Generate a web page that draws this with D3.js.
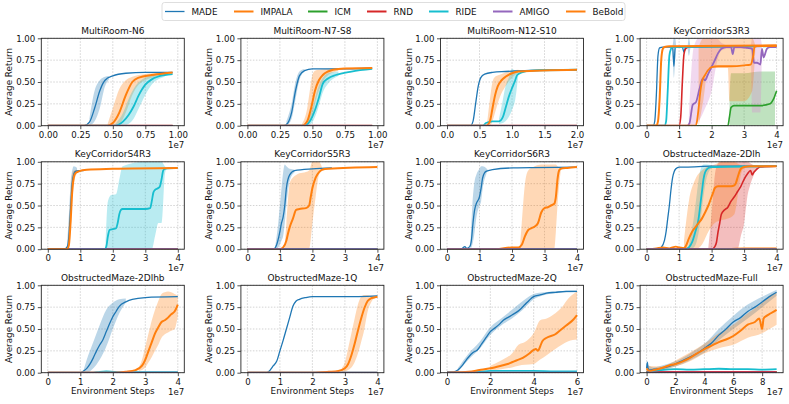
<!DOCTYPE html>
<html>
<head>
<meta charset="utf-8">
<script src="https://cdnjs.cloudflare.com/ajax/libs/d3/7.8.5/d3.min.js"></script>
<style>
  body { margin: 0; background: #fff; }
  svg { font-family: "DejaVu Sans", sans-serif; }
</style>
</head>
<body>
<svg id="chart" width="789" height="404"></svg>
<script>
// methods, in legend order
var methods = ["MADE", "IMPALA", "ICM", "RND", "RIDE", "AMIGO", "BeBold"];
var colors = ["#1f77b4", "#ff7f0e", "#2ca02c", "#d62728", "#17becf", "#9467bd", "#ff7f0e"];
var bandColors = ["#1f77b4", "#ff7f0e", "#2ca02c", "#d62728", "#17becf", "#d88fd0", "#ff7f0e"];
var widths = [1.3, 1.8, 1.6, 1.6, 1.8, 1.8, 2];

var titles = ["MultiRoom-N6", "MultiRoom-N7-S8", "MultiRoom-N12-S10", "KeyCorridorS3R3",
              "KeyCorridorS4R3", "KeyCorridorS5R3", "KeyCorridorS6R3", "ObstructedMaze-2Dlh",
              "ObstructedMaze-2Dlhb", "ObstructedMaze-1Q", "ObstructedMaze-2Q", "ObstructedMaze-Full"];
// x extent of each run, in units of 1e7 steps
var xMax = [1, 1, 2, 4, 4, 4, 4, 4, 4, 4, 6, 9];
var xTicks = [[0, 0.25, 0.5, 0.75, 1], [0, 0.25, 0.5, 0.75, 1], [0, 0.5, 1, 1.5, 2],
              [0, 1, 2, 3, 4], [0, 1, 2, 3, 4], [0, 1, 2, 3, 4], [0, 1, 2, 3, 4], [0, 1, 2, 3, 4],
              [0, 1, 2, 3, 4], [0, 1, 2, 3, 4], [0, 2, 4, 6], [0, 2, 4, 6, 8]];
var xFormats = [".2f", ".2f", ".1f", "d", "d", "d", "d", "d", "d", "d", "d", "d"];
var yTicks = [0, 0.25, 0.5, 0.75, 1];

// ---- per panel curves (x in 1e7 steps, y = average return) ----
var multiRoomN6 = {
  lines: [
    {m: "MADE", x: [0, 0.28, 0.32, 0.36, 0.40, 0.44, 0.50, 0.60, 0.75, 0.96], y: [0, 0, 0.04, 0.2, 0.4, 0.52, 0.57, 0.6, 0.61, 0.61]},
    {m: "IMPALA", x: [0, 0.96], y: [0, 0]},
    {m: "ICM", x: [0, 0.96], y: [0, 0]},
    {m: "RND", x: [0, 0.96], y: [0, 0]},
    {m: "RIDE", x: [0, 0.52, 0.58, 0.62, 0.66, 0.70, 0.75, 0.8, 0.9, 0.96], y: [0, 0, 0.05, 0.12, 0.22, 0.35, 0.47, 0.53, 0.58, 0.59]},
    {m: "BeBold", x: [0, 0.46, 0.5, 0.55, 0.6, 0.65, 0.7, 0.8, 0.9, 0.96], y: [0, 0, 0.03, 0.15, 0.35, 0.5, 0.55, 0.58, 0.6, 0.61]},
    {m: "AMIGO", x: [0, 0.96], y: [0, 0]}
  ],
  bands: [
    {m: "MADE", x: [0.32, 0.36, 0.40, 0.44, 0.47], lo: [0, 0.05, 0.2, 0.45, 0.53], hi: [0.08, 0.4, 0.52, 0.56, 0.57]},
    {m: "BeBold", x: [0.46, 0.5, 0.55, 0.6, 0.65, 0.7, 0.8, 0.9], lo: [0, 0, 0.02, 0.15, 0.35, 0.47, 0.55, 0.58], hi: [0.02, 0.2, 0.42, 0.52, 0.56, 0.58, 0.6, 0.61]},
    {m: "RIDE", x: [0.52, 0.58, 0.62, 0.66, 0.70, 0.75, 0.8, 0.9], lo: [0, 0, 0.02, 0.08, 0.2, 0.35, 0.47, 0.56], hi: [0.02, 0.15, 0.3, 0.42, 0.5, 0.55, 0.58, 0.6]}
  ]
};

var multiRoomN7S8 = {
  lines: [
    {m: "MADE", x: [0, 0.28, 0.31, 0.34, 0.37, 0.40, 0.44, 0.5, 0.7, 0.96], y: [0, 0, 0.03, 0.15, 0.4, 0.57, 0.63, 0.65, 0.65, 0.66]},
    {m: "IMPALA", x: [0, 0.96], y: [0, 0]},
    {m: "ICM", x: [0, 0.96], y: [0, 0]},
    {m: "RND", x: [0, 0.96], y: [0, 0]},
    {m: "RIDE", x: [0, 0.44, 0.48, 0.52, 0.55, 0.58, 0.62, 0.68, 0.8, 0.96], y: [0, 0, 0.05, 0.18, 0.32, 0.48, 0.54, 0.58, 0.62, 0.65]},
    {m: "BeBold", x: [0, 0.42, 0.46, 0.49, 0.52, 0.55, 0.58, 0.62, 0.7, 0.96], y: [0, 0, 0.05, 0.2, 0.4, 0.52, 0.58, 0.62, 0.65, 0.66]},
    {m: "AMIGO", x: [0, 0.96], y: [0, 0]}
  ],
  bands: [
    {m: "MADE", x: [0.3, 0.34, 0.37, 0.40, 0.44], lo: [0, 0.08, 0.3, 0.52, 0.62], hi: [0.05, 0.25, 0.5, 0.62, 0.65]},
    {m: "BeBold", x: [0.42, 0.46, 0.48, 0.5, 0.52, 0.55, 0.6, 0.7], lo: [0, 0, 0.05, 0.1, 0.25, 0.4, 0.55, 0.63], hi: [0.02, 0.2, 0.4, 0.58, 0.63, 0.64, 0.65, 0.66]},
    {m: "RIDE", x: [0.46, 0.5, 0.54, 0.58, 0.62, 0.7], lo: [0, 0.04, 0.18, 0.38, 0.48, 0.57], hi: [0.05, 0.2, 0.42, 0.55, 0.6, 0.62]}
  ]
};

var multiRoomN12S10 = {
  lines: [
    {m: "MADE", x: [0, 0.36, 0.4, 0.44, 0.48, 0.52, 0.58, 0.7, 0.9, 1.2, 2.0], y: [0, 0, 0.05, 0.25, 0.45, 0.55, 0.59, 0.61, 0.62, 0.63, 0.64]},
    {m: "IMPALA", x: [0, 2], y: [0, 0]},
    {m: "ICM", x: [0, 2], y: [0, 0]},
    {m: "RND", x: [0, 2], y: [0, 0]},
    {m: "RIDE", x: [0, 0.55, 0.6, 0.7, 0.8, 0.86, 0.9, 0.95, 1.0, 1.04, 1.08, 1.15, 1.3, 2.0], y: [0, 0, 0.03, 0.05, 0.05, 0.1, 0.2, 0.33, 0.43, 0.5, 0.58, 0.61, 0.63, 0.64]},
    {m: "BeBold", x: [0, 0.6, 0.66, 0.7, 0.74, 0.78, 0.84, 0.9, 1.0, 1.1, 2.0], y: [0, 0, 0.05, 0.2, 0.35, 0.45, 0.52, 0.56, 0.6, 0.62, 0.64]},
    {m: "AMIGO", x: [0, 2], y: [0, 0]}
  ],
  bands: [
    {m: "BeBold", x: [0.62, 0.66, 0.7, 0.74, 0.8, 0.9, 1.0, 1.1], lo: [0, 0, 0.05, 0.15, 0.3, 0.45, 0.55, 0.61], hi: [0.05, 0.3, 0.5, 0.56, 0.58, 0.61, 0.63, 0.64]},
    {m: "RIDE", x: [0.8, 0.86, 0.9, 0.95, 1.0, 1.05, 1.1], lo: [0.02, 0.03, 0.05, 0.1, 0.18, 0.3, 0.6], hi: [0.08, 0.3, 0.45, 0.55, 0.65, 0.63, 0.62]}
  ]
};

var keyCorridorS3R3 = {
  lines: [
    {m: "MADE", x: [0, 0.2, 0.25, 0.3, 0.35, 0.4, 0.5, 0.8, 0.84, 0.88, 0.92, 1.1, 1.15, 1.2, 1.3], y: [0, 0, 0.05, 0.35, 0.8, 0.89, 0.9, 0.9, 0.68, 0.9, 0.9, 0.9, 0.84, 0.9, 0.9]},
    {m: "ICM", x: [0, 2.5, 2.55, 2.6, 2.7, 3.0, 3.5, 3.8, 3.9, 4.0], y: [0, 0, 0.1, 0.21, 0.23, 0.23, 0.23, 0.25, 0.3, 0.4]},
    {m: "RND", x: [0, 1.0, 1.05, 1.1, 1.15, 1.2, 1.3, 4.0], y: [0, 0, 0.1, 0.5, 0.82, 0.88, 0.9, 0.91]},
    {m: "RIDE", x: [0, 0.55, 0.6, 0.65, 0.7, 0.75, 0.8, 4.0], y: [0, 0, 0.05, 0.4, 0.8, 0.88, 0.9, 0.91]},
    {m: "AMIGO", x: [0, 1.25, 1.32, 1.42, 1.52, 1.62, 1.73, 1.8, 1.88, 1.98, 2.1, 2.2, 2.3, 2.45, 2.6, 2.65, 2.7, 2.9, 3.1, 3.25, 3.3, 3.4, 3.5, 3.55, 3.6, 3.7, 3.8, 4.0],
                   y: [0, 0, 0.03, 0.24, 0.27, 0.41, 0.54, 0.52, 0.58, 0.66, 0.75, 0.83, 0.88, 0.9, 0.9, 0.82, 0.9, 0.9, 0.89, 0.88, 0.72, 0.72, 0.7, 0.88, 0.78, 0.88, 0.9, 0.9]},
    {m: "IMPALA", x: [0, 1.5, 1.55, 1.6, 1.65, 1.7, 1.75, 1.8, 1.9, 2.0, 2.2, 2.6, 3.0, 3.2, 3.28, 3.32, 3.4, 4.0], y: [0, 0, 0.05, 0.2, 0.38, 0.5, 0.55, 0.58, 0.64, 0.67, 0.68, 0.68, 0.69, 0.7, 0.8, 0.9, 0.91, 0.91]},
    {m: "BeBold", x: [0, 0.3, 0.35, 0.4, 0.45, 0.5, 0.55, 0.7, 4.0], y: [0, 0, 0.05, 0.3, 0.75, 0.88, 0.9, 0.91, 0.92]}
  ],
  bands: [
    {m: "MADE", x: [0.8, 0.84, 0.88, 0.92, 1.25, 1.3, 1.35], lo: [0.9, 0.55, 0.75, 0.9, 0.9, 0.8, 0.9], hi: [0.9, 1.0, 1.0, 0.9, 0.9, 1.0, 0.9]},
    {m: "ICM", x: [2.55, 2.6, 3.0, 3.5, 3.9, 3.95], lo: [0, 0, 0, 0, 0, 0], hi: [0.3, 0.6, 0.6, 0.62, 0.62, 0.62]},
    {m: "AMIGO", x: [1.3, 1.45, 1.6, 1.8, 2.0, 2.15, 2.3, 2.5, 3.2, 3.25, 3.35, 3.5, 3.55], lo: [0, 0, 0.05, 0.2, 0.4, 0.7, 0.86, 0.88, 0.88, 0.15, 0.15, 0.15, 0.88], hi: [0.1, 0.9, 1.0, 1.0, 1.0, 1.0, 0.95, 0.92, 0.92, 1.0, 1.0, 1.0, 0.92]},
    {m: "IMPALA", x: [1.6, 1.75, 1.9, 2.5, 2.55, 3.0, 3.25, 3.35], lo: [0, 0.3, 0.66, 0.66, 0.28, 0.28, 0.4, 0.9], hi: [0.9, 1.0, 1.0, 1.0, 1.0, 1.0, 1.0, 0.91]}
  ]
};

var keyCorridorS4R3 = {
  lines: [
    {m: "MADE", x: [0, 0.5, 0.6, 0.65, 0.7, 0.75, 0.8, 0.85, 0.95, 1.1], y: [0, 0, 0.03, 0.15, 0.45, 0.75, 0.86, 0.89, 0.9, 0.9]},
    {m: "IMPALA", x: [0, 4], y: [0, 0]},
    {m: "ICM", x: [0, 4], y: [0, 0]},
    {m: "RND", x: [0, 4], y: [0, 0]},
    {m: "RIDE", x: [0, 1.75, 1.8, 1.85, 1.9, 2.0, 2.1, 2.15, 2.2, 2.25, 2.3, 2.6, 3.0, 3.15, 3.2, 3.25, 3.3, 3.4, 3.45, 3.5, 3.55, 3.6, 4.0],
                  y: [0, 0, 0.03, 0.15, 0.22, 0.23, 0.24, 0.3, 0.4, 0.45, 0.46, 0.46, 0.46, 0.47, 0.55, 0.65, 0.68, 0.7, 0.72, 0.8, 0.9, 0.92, 0.93]},
    {m: "AMIGO", x: [0, 4], y: [0, 0]},
    {m: "BeBold", x: [0, 0.6, 0.65, 0.7, 0.75, 0.8, 0.85, 0.95, 1.2, 2.0, 4.0], y: [0, 0, 0.05, 0.3, 0.65, 0.82, 0.87, 0.89, 0.91, 0.92, 0.93]}
  ],
  bands: [
    {m: "MADE", x: [0.6, 0.65, 0.7, 0.75, 0.8, 0.9], lo: [0, 0.05, 0.3, 0.6, 0.8, 0.88], hi: [0.1, 0.4, 0.75, 0.9, 0.95, 0.93]},
    {m: "RIDE", x: [1.78, 1.85, 1.95, 2.1, 2.2, 2.3, 3.0, 3.2, 3.3, 3.4, 3.5, 3.6, 3.65], lo: [0, 0, 0, 0, 0, 0, 0, 0, 0.15, 0.3, 0.3, 0.85, 0.92], hi: [0.05, 0.55, 0.62, 0.63, 0.8, 0.95, 1.0, 1.0, 1.0, 1.0, 1.0, 0.95, 0.93]},
    {m: "BeBold", x: [0.62, 0.68, 0.74, 0.8, 0.9], lo: [0, 0.1, 0.45, 0.75, 0.87], hi: [0.1, 0.5, 0.85, 0.9, 0.91]}
  ]
};

var keyCorridorS5R3 = {
  lines: [
    {m: "MADE", x: [0, 0.8, 0.9, 1.0, 1.05, 1.1, 1.15, 1.2, 1.3, 1.45, 2.0, 2.6], y: [0, 0, 0.05, 0.2, 0.3, 0.37, 0.5, 0.7, 0.85, 0.9, 0.92, 0.93]},
    {m: "IMPALA", x: [0, 4], y: [0, 0]},
    {m: "ICM", x: [0, 4], y: [0, 0]},
    {m: "RND", x: [0, 4], y: [0, 0]},
    {m: "RIDE", x: [0, 4], y: [0, 0]},
    {m: "BeBold", x: [0, 1.0, 1.1, 1.2, 1.25, 1.3, 1.4, 1.5, 1.6, 1.8, 1.9, 1.95, 2.0, 2.1, 2.2, 2.3, 2.5, 4.0], y: [0, 0, 0.02, 0.1, 0.18, 0.25, 0.35, 0.45, 0.46, 0.47, 0.5, 0.6, 0.7, 0.82, 0.88, 0.91, 0.92, 0.94]},
    {m: "AMIGO", x: [0, 4], y: [0, 0]}
  ],
  bands: [
    {m: "MADE", x: [0.85, 0.95, 1.05, 1.1, 1.15, 1.2, 1.3, 1.45], lo: [0, 0.02, 0.1, 0.15, 0.3, 0.5, 0.78, 0.88], hi: [0.02, 0.3, 0.7, 0.88, 0.97, 0.95, 0.92, 0.91]},
    {m: "BeBold", x: [1.15, 1.2, 1.3, 1.4, 1.5, 1.9, 2.0, 2.1, 2.2, 2.3], lo: [0, 0, 0, 0, 0, 0, 0.3, 0.6, 0.85, 0.91], hi: [0.05, 0.3, 0.75, 0.82, 0.85, 0.9, 1.0, 1.0, 1.0, 0.93]}
  ]
};

var keyCorridorS6R3 = {
  lines: [
    {m: "MADE", x: [0, 0.45, 0.5, 0.55, 0.6, 0.7, 0.75, 0.8, 0.85, 0.9, 1.0, 1.05, 1.1, 1.2, 1.4, 2.0, 4.0], y: [0, 0, 0.02, 0.03, 0.01, 0.03, 0.1, 0.3, 0.45, 0.52, 0.6, 0.7, 0.82, 0.89, 0.91, 0.93, 0.94]},
    {m: "IMPALA", x: [0, 4], y: [0, 0]},
    {m: "ICM", x: [0, 4], y: [0, 0]},
    {m: "RND", x: [0, 4], y: [0, 0]},
    {m: "RIDE", x: [0, 4], y: [0, 0]},
    {m: "BeBold", x: [0, 1.5, 2.0, 2.2, 2.3, 2.4, 2.5, 2.6, 2.7, 2.8, 2.9, 3.0, 3.1, 3.2, 3.3, 3.35, 3.4, 3.45, 3.5, 3.7, 4.0],
                    y: [0, 0, 0.02, 0.02, 0.05, 0.15, 0.22, 0.24, 0.26, 0.3, 0.42, 0.47, 0.48, 0.5, 0.52, 0.6, 0.8, 0.9, 0.92, 0.93, 0.94]},
    {m: "AMIGO", x: [0, 4], y: [0, 0]}
  ],
  bands: [
    {m: "MADE", x: [0.72, 0.78, 0.85, 0.9, 1.0, 1.05, 1.1, 1.2, 1.25], lo: [0, 0.05, 0.2, 0.35, 0.5, 0.55, 0.7, 0.85, 0.9], hi: [0.05, 0.5, 0.78, 0.85, 0.92, 0.95, 0.95, 0.93, 0.91]},
    {m: "BeBold", x: [2.25, 2.3, 2.4, 2.5, 2.7, 2.9, 3.3, 3.35, 3.4, 3.5], lo: [0, 0, 0, 0, 0, 0, 0, 0.2, 0.5, 0.9], hi: [0.05, 0.3, 0.75, 0.9, 0.95, 0.97, 0.97, 0.97, 0.95, 0.93]}
  ]
};

var obstructedMaze2Dlh = {
  lines: [
    {m: "MADE", x: [0, 0.35, 0.45, 0.55, 0.6, 0.65, 0.7, 0.75, 0.8, 0.85, 0.9, 1.0, 1.2, 2.0, 4.0], y: [0, 0, 0.02, 0.1, 0.2, 0.35, 0.5, 0.68, 0.82, 0.89, 0.92, 0.94, 0.94, 0.95, 0.95]},
    {m: "IMPALA", x: [0, 0.3, 0.5, 0.7, 0.9, 1.0, 1.2, 1.5, 2.0, 2.5, 3.0, 3.5, 4.0], y: [0, 0.01, 0.02, 0.01, 0.03, 0.02, 0.01, 0, 0, 0, 0.01, 0.01, 0.01]},
    {m: "ICM", x: [0, 4], y: [0, 0]},
    {m: "RND", x: [0, 2.0, 2.1, 2.15, 2.2, 2.25, 2.3, 2.4, 2.5, 2.6, 2.7, 2.8, 2.9, 3.0, 3.1, 3.2, 3.25, 3.3, 3.35, 3.4, 3.5, 4.0],
                 y: [0, 0, 0.03, 0.08, 0.2, 0.3, 0.4, 0.45, 0.48, 0.55, 0.6, 0.66, 0.72, 0.8, 0.86, 0.9, 0.85, 0.88, 0.9, 0.92, 0.94, 0.95]},
    {m: "RIDE", x: [0, 1.2, 1.3, 1.4, 1.5, 1.6, 1.65, 1.7, 1.75, 1.8, 1.9, 2.0, 4.0], y: [0, 0, 0.02, 0.08, 0.2, 0.35, 0.5, 0.65, 0.8, 0.88, 0.93, 0.94, 0.95]},
    {m: "BeBold", x: [0, 1.1, 1.2, 1.3, 1.4, 1.5, 1.6, 1.7, 1.8, 1.9, 2.0, 2.05, 2.1, 2.2, 2.4, 2.6, 2.7, 2.75, 2.8, 2.85, 2.9, 3.0, 3.2, 4.0],
                    y: [0, 0, 0.03, 0.12, 0.2, 0.25, 0.3, 0.35, 0.42, 0.5, 0.6, 0.65, 0.7, 0.72, 0.72, 0.72, 0.73, 0.76, 0.82, 0.88, 0.92, 0.94, 0.95, 0.95]},
    {m: "AMIGO", x: [0, 4], y: [0, 0]}
  ],
  bands: [
    {m: "RND", x: [1.9, 2.0, 2.1, 2.2, 2.3, 2.6, 2.8, 2.9, 3.0, 3.1, 3.2, 3.3, 3.4], lo: [0, 0, 0, 0, 0, 0, 0, 0.15, 0.3, 0.6, 0.75, 0.85, 0.92], hi: [0.02, 0.4, 0.85, 0.98, 1.0, 1.0, 1.0, 1.0, 1.0, 1.0, 0.98, 0.96, 0.95]},
    {m: "RIDE", x: [1.3, 1.45, 1.55, 1.65, 1.75, 1.85, 2.0], lo: [0, 0.02, 0.1, 0.3, 0.6, 0.82, 0.93], hi: [0.05, 0.35, 0.65, 0.9, 0.97, 0.97, 0.96]},
    {m: "BeBold", x: [1.15, 1.3, 1.5, 1.7, 1.9, 2.1, 2.3, 2.5, 2.7, 2.8, 2.9, 3.0], lo: [0, 0, 0, 0.05, 0.2, 0.3, 0.33, 0.35, 0.4, 0.6, 0.85, 0.93], hi: [0.1, 0.55, 0.8, 0.9, 0.95, 0.97, 1.0, 1.0, 1.0, 0.98, 0.96, 0.95]}
  ]
};

var obstructedMaze2Dlhb = {
  lines: [
    {m: "MADE", x: [0, 1.0, 1.1, 1.2, 1.3, 1.4, 1.5, 1.6, 1.7, 1.8, 1.9, 2.0, 2.1, 2.2, 2.4, 2.6, 3.0, 4.0],
                  y: [0, 0, 0.02, 0.05, 0.1, 0.17, 0.25, 0.32, 0.38, 0.47, 0.56, 0.64, 0.7, 0.76, 0.81, 0.84, 0.86, 0.87]},
    {m: "IMPALA", x: [0, 4], y: [0, 0]},
    {m: "ICM", x: [0, 4], y: [0, 0]},
    {m: "RND", x: [0, 4], y: [0, 0]},
    {m: "RIDE", x: [0, 1.4, 1.6, 1.8, 2.0, 2.2, 4.0], y: [0, 0, 0.01, 0.015, 0.01, 0.005, 0.005]},
    {m: "BeBold", x: [0, 2.0, 2.4, 2.7, 2.9, 3.0, 3.1, 3.2, 3.3, 3.4, 3.5, 3.6, 3.7, 3.8, 3.9, 4.0], y: [0, 0, 0.01, 0.03, 0.08, 0.15, 0.25, 0.35, 0.45, 0.52, 0.58, 0.6, 0.63, 0.67, 0.7, 0.78]},
    {m: "AMIGO", x: [0, 4], y: [0, 0]}
  ],
  bands: [
    {m: "MADE", x: [1.1, 1.2, 1.4, 1.6, 1.8, 2.0, 2.2, 2.4], lo: [0, 0, 0.05, 0.15, 0.3, 0.5, 0.68, 0.8], hi: [0.03, 0.15, 0.35, 0.55, 0.72, 0.8, 0.84, 0.85]},
    {m: "BeBold", x: [2.8, 2.9, 3.0, 3.1, 3.2, 3.3, 3.4, 3.5, 3.6, 3.7, 3.8, 3.9, 4.0], lo: [0.02, 0.03, 0.06, 0.12, 0.18, 0.25, 0.32, 0.4, 0.44, 0.46, 0.48, 0.5, 0.65], hi: [0.06, 0.15, 0.3, 0.45, 0.6, 0.72, 0.82, 0.9, 0.92, 0.93, 0.92, 0.9, 0.88]}
  ]
};

var obstructedMaze1Q = {
  lines: [
    {m: "MADE", x: [0, 0.6, 0.65, 0.7, 0.8, 0.9, 1.0, 1.1, 1.2, 1.3, 1.4, 1.5, 1.6, 1.8, 2.0, 3.0, 4.0],
                  y: [0, 0, 0.01, 0.03, 0.08, 0.13, 0.25, 0.37, 0.5, 0.63, 0.76, 0.82, 0.84, 0.86, 0.87, 0.87, 0.88]},
    {m: "IMPALA", x: [0, 4], y: [0, 0]},
    {m: "ICM", x: [0, 4], y: [0, 0]},
    {m: "RND", x: [0, 4], y: [0, 0]},
    {m: "RIDE", x: [0, 4], y: [0, 0]},
    {m: "BeBold", x: [0, 2.0, 2.5, 2.8, 3.0, 3.1, 3.2, 3.3, 3.4, 3.5, 3.6, 3.7, 3.8, 3.9, 4.0], y: [0, 0, 0.01, 0.02, 0.05, 0.1, 0.2, 0.33, 0.48, 0.62, 0.74, 0.82, 0.85, 0.86, 0.87]},
    {m: "AMIGO", x: [0, 4], y: [0, 0]}
  ],
  bands: [
    {m: "BeBold", x: [2.9, 3.0, 3.1, 3.2, 3.3, 3.4, 3.5, 3.6, 3.7, 3.8, 3.9, 4.0], lo: [0, 0.01, 0.03, 0.06, 0.12, 0.22, 0.35, 0.5, 0.7, 0.8, 0.85, 0.86], hi: [0.05, 0.12, 0.28, 0.45, 0.62, 0.78, 0.87, 0.89, 0.89, 0.88, 0.88, 0.88]}
  ]
};

var obstructedMaze2Q = {
  lines: [
    {m: "MADE", x: [0, 0.3, 0.5, 0.7, 0.9, 1.0, 1.2, 1.4, 1.6, 1.8, 2.0, 2.2, 2.4, 2.6, 2.8, 3.0, 3.2, 3.4, 3.6, 3.8, 4.0, 4.3, 4.6, 5.0, 5.5, 6.0],
                  y: [0.01, 0.01, 0.03, 0.08, 0.15, 0.18, 0.23, 0.26, 0.33, 0.4, 0.47, 0.51, 0.55, 0.6, 0.63, 0.66, 0.69, 0.73, 0.78, 0.83, 0.87, 0.89, 0.91, 0.92, 0.93, 0.93]},
    {m: "IMPALA", x: [0, 6], y: [0, 0]},
    {m: "ICM", x: [0, 6], y: [0, 0]},
    {m: "RND", x: [0, 6], y: [0, 0]},
    {m: "RIDE", x: [0, 1.5, 2, 3, 4, 5, 6], y: [0, 0.01, 0.02, 0.02, 0.02, 0.015, 0.015]},
    {m: "BeBold", x: [0, 0.5, 1.0, 1.5, 2.0, 2.5, 2.8, 3.0, 3.2, 3.5, 3.8, 4.0, 4.1, 4.2, 4.3, 4.4, 4.6, 5.0, 5.2, 5.5, 5.8, 6.0],
                    y: [0, 0.005, 0.01, 0.03, 0.05, 0.08, 0.1, 0.12, 0.14, 0.17, 0.22, 0.26, 0.27, 0.25, 0.3, 0.36, 0.4, 0.44, 0.48, 0.54, 0.6, 0.66]},
    {m: "AMIGO", x: [0, 6], y: [0, 0]}
  ],
  bands: [
    {m: "MADE", x: [0.5, 1, 1.5, 2, 2.5, 3, 3.5, 4, 4.5, 5, 6], lo: [0.01, 0.15, 0.27, 0.43, 0.54, 0.62, 0.72, 0.84, 0.89, 0.91, 0.92], hi: [0.05, 0.22, 0.35, 0.52, 0.62, 0.72, 0.82, 0.9, 0.92, 0.93, 0.94]},
    {m: "BeBold", x: [2.0, 2.5, 3.0, 3.3, 3.6, 4.0, 4.3, 4.6, 5.0, 5.3, 5.6, 6.0], lo: [0.02, 0.04, 0.06, 0.08, 0.09, 0.1, 0.15, 0.2, 0.27, 0.32, 0.36, 0.38], hi: [0.08, 0.14, 0.22, 0.32, 0.35, 0.45, 0.6, 0.62, 0.68, 0.75, 0.85, 0.93]}
  ]
};

var obstructedMazeFull = {
  lines: [
    {m: "MADE", x: [0, 0.05, 0.1, 0.2, 0.5, 1, 1.5, 2, 2.5, 3, 3.5, 4, 4.5, 5, 5.5, 6, 6.5, 7, 7.5, 8, 8.5, 9],
                  y: [0.05, 0.12, 0.05, 0.03, 0.04, 0.05, 0.07, 0.1, 0.14, 0.18, 0.22, 0.28, 0.34, 0.43, 0.5, 0.58, 0.63, 0.7, 0.75, 0.81, 0.87, 0.92]},
    {m: "IMPALA", x: [0, 9], y: [0, 0]},
    {m: "ICM", x: [0, 9], y: [0.01, 0.01]},
    {m: "RND", x: [0, 9], y: [0.01, 0.01]},
    {m: "RIDE", x: [0, 0.5, 1, 2, 3, 4, 5, 6, 7, 8, 9], y: [0, 0.02, 0.03, 0.04, 0.035, 0.04, 0.045, 0.04, 0.04, 0.035, 0.04]},
    {m: "BeBold", x: [0, 0.2, 0.5, 1, 1.5, 2, 2.5, 3, 3.5, 4, 4.5, 5, 5.5, 6, 6.5, 7, 7.5, 7.8, 8, 8.1, 8.3, 8.6, 9],
                    y: [0.05, 0.02, 0.03, 0.05, 0.08, 0.1, 0.13, 0.17, 0.22, 0.27, 0.31, 0.35, 0.38, 0.42, 0.48, 0.55, 0.58, 0.62, 0.5, 0.62, 0.65, 0.68, 0.72]},
    {m: "AMIGO", x: [0, 9], y: [0, 0]}
  ],
  bands: [
    {m: "MADE", x: [0, 0.5, 1, 2, 3, 4, 5, 6, 7, 8, 9], lo: [0, 0.02, 0.03, 0.07, 0.14, 0.23, 0.37, 0.5, 0.62, 0.75, 0.88], hi: [0.1, 0.06, 0.08, 0.13, 0.22, 0.33, 0.5, 0.65, 0.78, 0.87, 0.95]},
    {m: "BeBold", x: [0, 1, 2, 3, 4, 5, 6, 7, 8, 8.5, 9], lo: [0, 0.03, 0.07, 0.13, 0.22, 0.28, 0.32, 0.4, 0.45, 0.5, 0.55], hi: [0.08, 0.07, 0.14, 0.23, 0.33, 0.45, 0.55, 0.68, 0.8, 0.88, 0.92]}
  ]
};

var panels = [multiRoomN6, multiRoomN7S8, multiRoomN12S10, keyCorridorS3R3,
              keyCorridorS4R3, keyCorridorS5R3, keyCorridorS6R3, obstructedMaze2Dlh,
              obstructedMaze2Dlhb, obstructedMaze1Q, obstructedMaze2Q, obstructedMazeFull];

// ---- layout ----
var left0 = 41.3, stepX = 199.6, top0 = 38.3, stepY = 123.5;
var pw = 143, ph = 87.4;

var svg = d3.select("#chart");
var color = d3.scaleOrdinal().domain(methods).range(colors);
var bandColor = d3.scaleOrdinal().domain(methods).range(bandColors);
var lw = d3.scaleOrdinal().domain(methods).range(widths);

panels.forEach(function(p, i) {
  var col = i % 4, row = Math.floor(i / 4);
  var g = svg.append("g")
    .attr("transform", "translate(" + (left0 + col * stepX) + "," + (top0 + row * stepY) + ")");

  var x = d3.scaleLinear().domain([-0.05 * xMax[i], 1.05 * xMax[i]]).range([0, pw]);
  var y = d3.scaleLinear().domain([0, 1]).range([ph, 0]);

  // grid
  g.append("g").selectAll("line").data(xTicks[i]).enter().append("line")
    .attr("x1", function(d) { return x(d); }).attr("x2", function(d) { return x(d); })
    .attr("y1", 0).attr("y2", ph)
    .style("stroke", "#c8c8c8").style("stroke-width", 0.8).style("stroke-dasharray", "1.5,1.5");
  g.append("g").selectAll("line").data(yTicks).enter().append("line")
    .attr("x1", 0).attr("x2", pw)
    .attr("y1", function(d) { return y(d); }).attr("y2", function(d) { return y(d); })
    .style("stroke", "#c8c8c8").style("stroke-width", 0.8).style("stroke-dasharray", "1.5,1.5");

  var clipId = "clip" + i;
  g.append("clipPath").attr("id", clipId).append("rect")
    .attr("x", 0).attr("y", -1).attr("width", pw).attr("height", ph + 1);
  var plot = g.append("g").attr("clip-path", "url(#" + clipId + ")");

  var area = d3.area()
    .x(function(d) { return x(d[0]); })
    .y0(function(d) { return y(d[1]); })
    .y1(function(d) { return y(d[2]); })
    .curve(d3.curveMonotoneX);
  p.bands.forEach(function(b) {
    var pts = b.x.map(function(v, k) { return [v, b.lo[k], b.hi[k]]; });
    plot.append("path").datum(pts).attr("d", area)
      .style("fill", bandColor(b.m)).style("fill-opacity", b.m === "AMIGO" ? 0.35 : 0.3).style("stroke", "none");
  });

  var line = d3.line()
    .x(function(d) { return x(d[0]); })
    .y(function(d) { return y(d[1]); })
    .curve(d3.curveMonotoneX);
  p.lines.forEach(function(s) {
    var pts = s.x.map(function(v, k) { return [v, s.y[k]]; });
    plot.append("path").datum(pts).attr("d", line)
      .style("fill", "none").style("stroke", color(s.m)).style("stroke-width", lw(s.m))
      .style("stroke-linejoin", "round");
  });

  // frame
  g.append("rect").attr("width", pw).attr("height", ph)
    .style("fill", "none").style("stroke", "#262626").style("stroke-width", 0.9);

  // axes
  var xAxis = d3.axisBottom(x).tickValues(xTicks[i]).tickFormat(d3.format(xFormats[i]))
    .tickSize(3.5).tickPadding(2.5);
  var yAxis = d3.axisLeft(y).tickValues(yTicks).tickFormat(d3.format(".2f"))
    .tickSize(3.5).tickPadding(2.5);
  var xa = g.append("g").attr("transform", "translate(0," + ph + ")").call(xAxis);
  var ya = g.append("g").call(yAxis);
  [xa, ya].forEach(function(a) {
    a.select(".domain").remove();
    a.selectAll("line").style("stroke", "#262626").style("stroke-width", 0.8);
    a.selectAll("text").style("font-size", "8.6px").style("fill", "#111")
      .style("font-family", "DejaVu Sans");
  });

  g.append("text").attr("x", pw / 2).attr("y", -4.5)
    .attr("text-anchor", "middle").style("font-size", "9px").style("fill", "#111")
    .text(titles[i]);

  g.append("text")
    .attr("transform", "translate(" + (-32) + "," + (ph / 2) + ")rotate(-90)")
    .attr("text-anchor", "middle").attr("dy", "0.35em")
    .style("font-size", "8.8px").style("fill", "#111")
    .text("Average Return");

  g.append("text").attr("x", pw).attr("y", ph + 22)
    .attr("text-anchor", "end").style("font-size", "8.6px").style("fill", "#111")
    .text("1e7");

  if (row === 2) {
    g.append("text").attr("x", pw / 2).attr("y", ph + 21)
      .attr("text-anchor", "middle").style("font-size", "8.8px").style("fill", "#111")
      .text("Environment Steps");
  }
});

// legend
var legendX = [165, 234, 308, 367, 429, 493, 566];
var lg = svg.append("g");
lg.append("rect").attr("x", 162).attr("y", 2.5).attr("width", 463).attr("height", 18).attr("rx", 2.5)
  .style("fill", "#fff").style("stroke", "#d6d6d6").style("stroke-width", 0.8);
methods.forEach(function(m, k) {
  lg.append("line").attr("x1", legendX[k]).attr("x2", legendX[k] + 19.5)
    .attr("y1", 11.5).attr("y2", 11.5)
    .style("stroke", color(m)).style("stroke-width", k === 0 ? 1.3 : 2);
  lg.append("text").attr("x", legendX[k] + 26.5).attr("y", 11.5).attr("dy", "0.35em")
    .style("font-size", "8.8px").style("fill", "#111").text(m);
});
</script>
</body>
</html>
